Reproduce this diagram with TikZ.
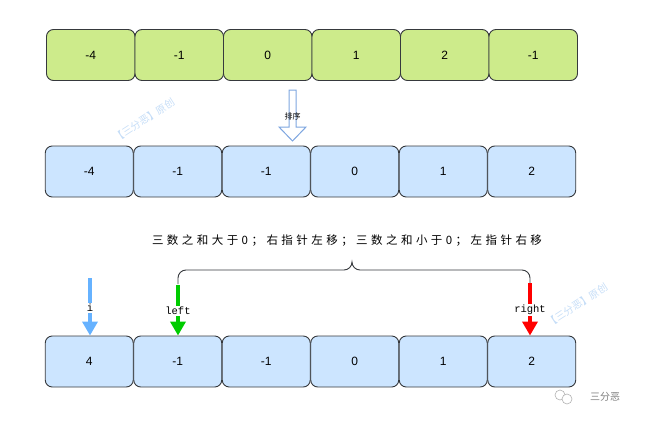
\documentclass[tikz,border=0pt]{standalone}
\usepackage{fontspec}
\setmainfont{Liberation Sans}
\newfontfamily\cjk{Noto Sans CJK SC}
\newfontfamily\cjkwide[LetterSpace=30]{Noto Sans CJK SC}
\newfontfamily\monof{Liberation Mono}
\usetikzlibrary{arrows.meta}
\definecolor{gfill}{HTML}{CDEB8B}
\definecolor{bfill}{HTML}{CCE5FF}
\definecolor{cstroke}{HTML}{36393D}
\definecolor{iblue}{HTML}{66B2FF}
\definecolor{hblue}{HTML}{7EA6E0}
\definecolor{wm}{HTML}{C5DDF7}
\definecolor{lgreen}{HTML}{00CC00}
\definecolor{lred}{HTML}{FF0000}
\tikzset{
  cell/.style={draw=cstroke, line width=0.9pt, rounded corners=7pt, minimum height=51pt, inner sep=0pt, font=\fontsize{12}{14}\selectfont},
  gcell/.style={cell, fill=gfill, minimum width=88.5pt},
  bcell/.style={cell, fill=bfill, minimum width=88pt},
  ptr/.style={line width=3.5pt, -{Triangle[width=15pt,length=14pt]}},
  ptrlabel/.style={fill=white, inner sep=1pt, font=\monof\fontsize{10.5}{12}\selectfont},
  wmark/.style={text=wm, font=\cjk\fontsize{10}{11}\selectfont, rotate=33, inner sep=0pt},
}
\begin{document}
\begin{tikzpicture}[x=1pt,y=-1pt]
\useasboundingbox (0,0) rectangle (648,426);
% watermarks
\node[wmark] (wm1) at (144,120) {【三分恶】原创};
\node[wmark] (wm2) at (577,305) {【三分恶】原创};
% row 1
\foreach \v [count=\i] in {-4,-1,0,1,2,-1}{
  \node[gcell] (a\i) at ({46.5+88.5*(\i-0.5)},55) {\v};
}
% row 2
\foreach \v [count=\i] in {-4,-1,-1,0,1,2}{
  \node[bcell] (b\i) at ({45+88.5*(\i-0.5)},171.5) {\v};
}
% row 3
\foreach \v [count=\i] in {4,-1,-1,0,1,2}{
  \node[bcell] (c\i) at ({45+88.5*(\i-0.5)},361.5) {\v};
}
% sort arrow (hollow)
\draw[hblue, line width=1pt, fill=white] (289,90) -- (296,90) -- (296,127) -- (306,127) -- (292.5,141) -- (279,127) -- (289,127) -- cycle;
\node[font=\cjk\fontsize{8}{9}\selectfont, inner sep=0.5pt] (sortlbl) at (292.5,116) {排序};
% text
\node[font=\cjkwide\fontsize{11.5}{13}\selectfont] (rule) at (347,241) {三数之和大于0；右指针左移；三数之和小于0；左指针右移};
% brace
\coordinate (bl) at (178,284);
\coordinate (br) at (530,284);
\draw[cstroke, line width=0.9pt] (bl) -- (178,278) to[out=90,in=180] (186,270) -- (344,270) to[out=0,in=-90] (352,262) to[out=-90,in=180] (360,270) -- (522,270) to[out=0,in=90] (530,278) -- (br);
% pointers
\coordinate (istart) at (90,278);
\coordinate (lstart) at (178,285);
\coordinate (rstart) at (530,283);
\draw[ptr, iblue] (istart) -- (c1.north -| istart);
\draw[ptr, lgreen] (lstart) -- (c2.north -| lstart);
\draw[ptr, lred] (rstart) -- (c6.north -| rstart);
\node[ptrlabel] (il) at (90,308) {i};
\node[ptrlabel] (ll) at (178,311) {left};
\node[ptrlabel] (rl) at (530,310) {right};
% signature
\draw[gray!60, line width=0.6pt] (560,395) circle (5pt);
\draw[gray!60, line width=0.6pt, fill=white] (567,399) circle (5pt);
\node[text=gray, font=\cjk\fontsize{10}{12}\selectfont] (sig) at (605,397) {三分恶};
\end{tikzpicture}
\end{document}
